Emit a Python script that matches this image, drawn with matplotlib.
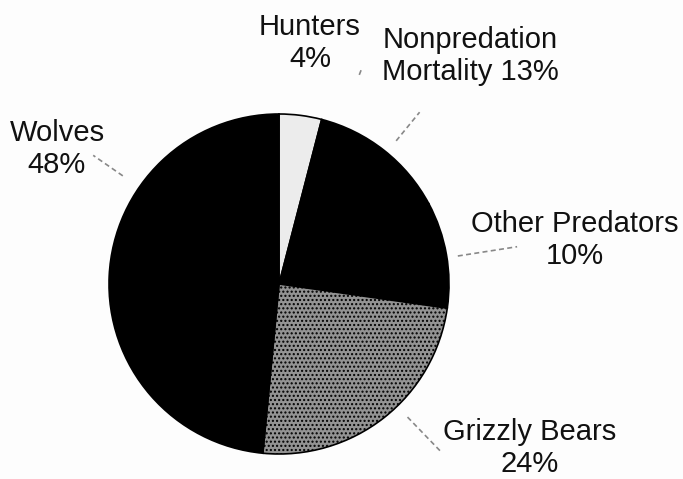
import numpy as np
import matplotlib
matplotlib.use("Agg")
import matplotlib.pyplot as plt

# slices, clockwise from 12 o'clock
labels = ["Hunters", "Nonpredation\nMortality", "Other Predators", "Grizzly Bears", "Wolves"]
values = [4, 13, 10, 24, 48]
colors = ["#ececec", "#000000", "#000000", "#939393", "#000000"]

W, H = 683, 479
fig = plt.figure(figsize=(W / 100, H / 100), dpi=100)
fig.patch.set_facecolor("#fdfdfd")
ax = fig.add_axes([0, 0, 1, 1])

cx, cy, R = 279, H - 284, 170

wedges, _ = ax.pie(values, colors=colors, startangle=90, counterclock=False,
                   center=(cx, cy), radius=R, frame=True,
                   wedgeprops=dict(edgecolor="#000000", linewidth=1.2))
wedges[3].set_hatch("....")
ax.set_xlim(0, W)
ax.set_ylim(0, H)
ax.set_aspect("equal")
ax.axis("off")

# label text and placement (pixel centre from the top-left)
label_pos = [(310, 43), (470, 56), (575, 240), (530, 448), (57, 149)]
leader = [(69, 224, 230), (50.7, 185, 222), (8.9, 181, 241), (-46, 185, 233), (145.3, 190, 226)]

for lab, v, (px, py), (ang, r0, r1) in zip(labels, values, label_pos, leader):
    if "\n" in lab:
        txt = lab + " %d%%" % v
    else:
        txt = lab + "\n%d%%" % v
    ax.text(px, H - py, txt, ha="center", va="center", fontsize=21,
            color="#111111", linespacing=1.15, family=["Liberation Sans", "DejaVu Sans"])
    a = np.deg2rad(ang)
    ax.plot([cx + r0 * np.cos(a), cx + r1 * np.cos(a)],
            [cy + r0 * np.sin(a), cy + r1 * np.sin(a)],
            color="#888888", linewidth=1.2, linestyle=(0, (3, 2)))

fig.savefig("out.png", dpi=100, facecolor=fig.get_facecolor())
